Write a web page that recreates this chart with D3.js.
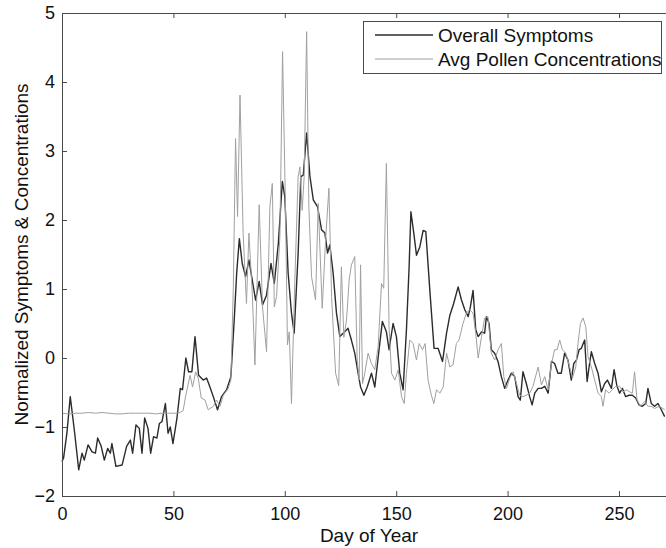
<!DOCTYPE html>
<html>
<head>
<meta charset="utf-8">
<script src="https://cdn.jsdelivr.net/npm/d3@7"></script>
<style>
  body { margin: 0; background: #fff; }
  svg { display: block; font-family: "Liberation Sans", Arial, sans-serif; }
</style>
</head>
<body>
<svg id="chart" width="666" height="548"></svg>
<script>
// series, [day, value]
const symptoms = [
  [0,-1.50],[0.7,-1.45],[2.2,-1.09],[3.7,-0.56],[5.7,-1.09],[7.5,-1.62],[9,-1.38],[10,-1.48],
  [11.7,-1.26],[13.5,-1.36],[15,-1.38],[16,-1.16],[17.6,-1.28],[19,-1.48],[20.5,-1.31],[21.7,-1.38],
  [22.4,-1.24],[24.2,-1.57],[27,-1.55],[29,-1.28],[30.7,-1.19],[31.7,-1.38],[33.2,-0.97],[34.7,-1.02],
  [35.9,-1.38],[37.1,-0.87],[38.6,-1.02],[39.8,-1.38],[41.1,-1.14],[42.6,-1.16],[43.7,-0.95],[44.9,-0.92],
  [46.4,-0.66],[47.6,-1.09],[48.6,-1.00],[49.8,-1.24],[51.6,-0.87],[53.1,-0.44],[54.1,-0.46],[55.6,0.00],
  [56.8,-0.20],[58.3,-0.20],[59.7,0.31],[61.3,-0.25],[63.4,-0.32],[64.9,-0.29],[66.4,-0.42],[67.9,-0.56],
  [69.8,-0.75],[71.6,-0.56],[73.9,-0.46],[75.8,-0.27],[77.3,0.55],[78.4,1.23],[79.6,1.73],[80.9,1.37],
  [82.4,1.18],[83.9,1.42],[85.4,1.13],[86.9,0.84],[88.5,1.11],[90,0.77],[91.8,0.91],[93.8,1.37],
  [95.3,1.08],[97.1,1.66],[98.9,2.56],[100,2.34],[101.5,1.23],[103,0.65],[104.2,0.36],[106,1.52],
  [107.2,2.63],[108.3,2.65],[109.8,3.26],[111.3,2.63],[112.8,2.29],[114.7,2.19],[116.5,1.86],[118,1.81],
  [119.2,1.52],[120.2,1.64],[121.7,1.23],[123.2,0.65],[124.7,0.31],[126.9,0.38],[128.4,0.43],[129.9,0.26],
  [131.4,0.07],[132.9,-0.22],[134,-0.42],[135.5,-0.54],[137,-0.42],[138.9,-0.22],[140.4,-0.42],[142.3,0.12],
  [143.8,0.53],[145.6,0.38],[146.8,0.12],[148.6,0.50],[150.1,0.31],[151.6,-0.22],[153.1,-0.46],[154.6,0.41],
  [155.8,1.32],[156.6,2.12],[157.9,1.81],[159.1,1.49],[160.6,1.61],[162.1,1.85],[163.3,1.83],[165.1,0.98],
  [167,0.14],[168.8,0.14],[170.8,-0.05],[172.6,0.36],[174.1,0.62],[175.8,0.79],[177.8,1.03],[179.3,0.84],
  [180.8,0.70],[182.3,0.60],[183.3,0.74],[184.5,0.98],[185.7,0.41],[186.8,0.31],[188.3,0.38],[189.7,0.36],
  [190.5,0.60],[191.7,0.50],[192.7,0.12],[194.2,0.07],[195.7,-0.05],[197.2,-0.27],[198.7,-0.44],[200.2,-0.32],
  [201.7,-0.22],[203.2,-0.27],[204.7,-0.56],[205.7,-0.61],[206.9,-0.20],[208.4,-0.37],[209.9,-0.56],[211,-0.68],
  [212.2,-0.51],[213.7,-0.44],[215.2,-0.44],[216.7,-0.41],[218.2,-0.51],[219.7,-0.05],[221.1,-0.08],[222.6,-0.22],
  [224.1,-0.22],[225.6,0.07],[227.1,-0.03],[228.6,-0.32],[229.7,-0.08],[230.9,-0.03],[232.1,0.12],[233.1,0.14],
  [234.6,0.26],[235.7,-0.34],[236.8,-0.08],[237.6,0.09],[239.1,-0.08],[240.6,-0.22],[242.1,-0.49],[243.6,-0.37],
  [244.8,-0.32],[246.6,-0.44],[247.8,-0.17],[249.1,-0.41],[250.3,-0.51],[251.5,-0.44],[253,-0.56],[254.5,-0.54],
  [256,-0.54],[257.5,-0.58],[259,-0.68],[260.5,-0.70],[262,-0.66],[263,-0.44],[264.5,-0.66],[266,-0.70],
  [267.5,-0.66],[269,-0.75],[270.5,-0.85]
];

const pollen = [
  [0,-0.80],[3,-0.81],[6,-0.80],[9,-0.80],[12,-0.79],[15,-0.80],[18,-0.79],[21,-0.80],[24,-0.81],
  [27,-0.81],[30,-0.80],[33,-0.80],[36,-0.80],[39,-0.80],[42,-0.81],[45,-0.80],[48,-0.80],[51,-0.80],
  [53,-0.79],[54.4,-0.76],[55.5,-0.55],[57.5,-0.25],[58.6,-0.42],[60,-0.20],[61.2,-0.30],[62.5,-0.58],
  [64.2,-0.61],[65.6,-0.75],[67.9,-0.70],[69.4,-0.61],[70.9,-0.70],[72.4,-0.54],[74.6,-0.44],[75.8,-0.32],
  [76.9,1.03],[77.9,3.18],[78.8,2.05],[79.9,3.81],[81.3,1.81],[82.8,0.79],[83.9,1.81],[85.4,0.94],
  [86.6,-0.10],[88.5,2.22],[90,0.74],[91.8,0.09],[93.3,2.19],[94.4,2.53],[95.3,0.74],[96.3,0.89],
  [97.8,1.76],[99,4.44],[100.3,2.19],[101.2,0.19],[102,0.38],[103,-0.66],[104.5,1.13],[106,2.63],
  [106.8,2.77],[107.8,2.14],[108.7,2.63],[109.8,4.73],[110.8,2.19],[112,1.18],[113.8,0.84],[115,2.24],
  [116.8,0.72],[118.3,1.71],[119.8,2.46],[121,0.89],[122.8,-0.22],[124.2,-0.40],[125.4,1.32],[126.5,0.30],
  [127.7,0.55],[128.9,1.13],[129.9,1.35],[131.4,1.47],[132.5,-0.03],[133.4,-0.32],[134,1.35],[134.9,-0.37],
  [135.9,-0.22],[137.4,0.07],[138.9,-0.08],[140.4,-0.17],[141.9,0.17],[143.4,1.08],[144.4,1.01],[145.6,2.82],
  [146.8,0.45],[147.9,-0.22],[149.4,-0.32],[150.9,-0.17],[152.4,-0.56],[153.6,-0.66],[154.6,-0.22],[156.1,0.26],
  [157.6,0.21],[159.1,-0.03],[160.3,0.21],[161.8,0.12],[163,0.21],[164.3,-0.32],[165.8,-0.54],[166.9,-0.66],
  [168.1,-0.46],[169.6,-0.51],[171.1,-0.42],[172.6,0.07],[174.1,-0.13],[175.5,-0.10],[177,0.21],[178.2,0.26],
  [180,0.50],[181.5,0.65],[183,0.70],[184.5,0.65],[185.7,0.36],[186.8,0.00],[188.3,0.31],[189.7,0.58],
  [191.2,0.60],[192.7,0.07],[194.2,-0.03],[195.7,0.12],[197.2,0.21],[198.3,-0.27],[199.5,-0.44],[201,-0.29],
  [202.5,-0.20],[204,-0.37],[205.4,-0.54],[206.9,-0.56],[208.4,-0.54],[209.9,-0.51],[211.4,-0.41],[213.7,-0.13],
  [215.2,-0.39],[216.7,-0.27],[218.2,-0.46],[219.7,-0.08],[221.1,0.12],[222.2,0.12],[223.4,0.26],[224.6,0.12],
  [226.1,0.07],[227.6,-0.10],[229.1,-0.29],[230.6,-0.13],[231.6,0.21],[232.7,0.50],[233.9,0.58],[235.1,0.45],
  [236.1,0.02],[237.6,-0.13],[239.1,-0.32],[240.6,-0.51],[242.1,-0.56],[242.8,-0.70],[244,-0.46],[245.5,-0.51],
  [247,-0.46],[248.5,-0.41],[250.3,-0.41],[251.8,-0.49],[253.3,-0.46],[254.8,-0.49],[256,-0.51],[257,-0.20],
  [258.1,-0.61],[259.6,-0.70],[261.5,-0.63],[263,-0.70],[264.5,-0.70],[266,-0.73],[268.2,-0.70],[270.5,-0.75]
];

const xTicks = [0, 50, 100, 150, 200, 250];
const yTicks = [-2, -1, 0, 1, 2, 3, 4, 5];
const seriesNames = ["Overall Symptoms", "Avg Pollen Concentrations"];

const plot = {left: 62, right: 668, top: 13, bottom: 496};
const axisColor = "#4a4a4a";
const tickFont = "18px";
const labelFont = "19px";

const svg = d3.select("#chart");

const x = d3.scaleLinear().domain([0, 272]).range([plot.left, plot.right]);
const y = d3.scaleLinear().domain([-2, 5]).range([plot.bottom, plot.top]);

// white box
svg.append("rect")
    .attr("x", plot.left).attr("y", plot.top)
    .attr("width", plot.right - plot.left).attr("height", plot.bottom - plot.top)
    .attr("fill", "#fff");

const line = d3.line().x(d => x(d[0])).y(d => y(d[1]));

svg.append("path").datum(symptoms)
    .attr("d", line)
    .attr("fill", "none")
    .attr("stroke", "#2b2b2b")
    .attr("stroke-width", 1.4)
    .attr("stroke-linejoin", "round");

svg.append("path").datum(pollen)
    .attr("d", line)
    .attr("fill", "none")
    .attr("stroke", "#a0a0a0")
    .attr("stroke-width", 1)
    .attr("stroke-linejoin", "round");

// axes, ticks pointing into the box like matlab
function styleAxis(g) {
    g.select(".domain").remove();
    g.selectAll(".tick line").attr("stroke", axisColor);
    g.selectAll(".tick text")
        .attr("fill", "#111")
        .style("font-size", tickFont);
}

svg.append("g")
    .attr("transform", `translate(0,${plot.bottom})`)
    .call(d3.axisBottom(x).tickValues(xTicks).tickSizeInner(-5).tickSizeOuter(0).tickPadding(11))
    .call(styleAxis);

svg.append("g")
    .attr("transform", `translate(0,${plot.top})`)
    .call(d3.axisTop(x).tickValues(xTicks).tickSizeInner(-5).tickSizeOuter(0).tickFormat(""))
    .call(styleAxis);

svg.append("g")
    .attr("transform", `translate(${plot.left},0)`)
    .call(d3.axisLeft(y).tickValues(yTicks).tickFormat(d3.format("d"))
        .tickSizeInner(-5).tickSizeOuter(0).tickPadding(7))
    .call(styleAxis);

svg.append("rect")
    .attr("x", plot.left + 0.5).attr("y", plot.top + 0.5)
    .attr("width", plot.right - plot.left).attr("height", plot.bottom - plot.top)
    .attr("fill", "none")
    .attr("stroke", axisColor)
    .attr("stroke-width", 1);

// axis titles
svg.append("text")
    .attr("x", 369)
    .attr("y", 542)
    .attr("text-anchor", "middle")
    .style("font-size", labelFont)
    .attr("fill", "#111")
    .text("Day of Year");

svg.append("text")
    .attr("transform", `translate(28,${(plot.top + plot.bottom) / 2}) rotate(-90)`)
    .attr("text-anchor", "middle")
    .style("font-size", labelFont)
    .attr("fill", "#111")
    .text("Normalized Symptoms & Concentrations");

// legend
const legend = svg.append("g");
legend.append("rect")
    .attr("x", 363.5).attr("y", 21.5)
    .attr("width", 298).attr("height", 52)
    .attr("fill", "#fff")
    .attr("stroke", axisColor);

const legendStyles = [
    {stroke: "#2b2b2b", width: 1.4},
    {stroke: "#a0a0a0", width: 1}
];

seriesNames.forEach((name, i) => {
    let ly = 35 + i * 24;
    legend.append("line")
        .attr("x1", 375).attr("x2", 433)
        .attr("y1", ly).attr("y2", ly)
        .attr("stroke", legendStyles[i].stroke)
        .attr("stroke-width", legendStyles[i].width);
    legend.append("text")
        .attr("x", 438).attr("y", ly)
        .attr("dy", "0.36em")
        .style("font-size", labelFont)
        .attr("fill", "#111")
        .text(name);
});
</script>
</body>
</html>
